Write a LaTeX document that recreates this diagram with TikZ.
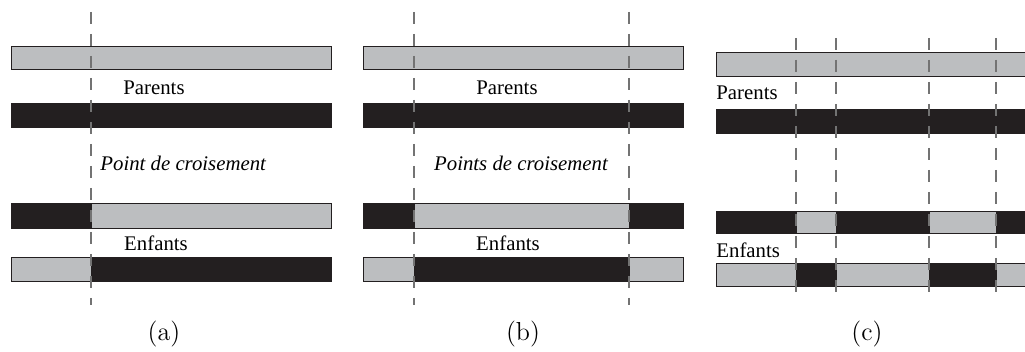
\documentclass[tikz,border=0pt]{standalone}
\usepackage{fontspec}
\newfontfamily\timesfont{Liberation Serif}
\usetikzlibrary{positioning}
\definecolor{geneg}{HTML}{BCBEC0}
\definecolor{genek}{HTML}{231F20}

\begin{document}
\begin{tikzpicture}[x=0.5pt,y=-0.5pt,
  gris/.style={fill=geneg,draw=genek,line width=0.5pt},
  noir/.style={fill=genek,draw=genek,line width=0.5pt},
  coupe/.style={draw=black!55,line width=0.6pt,dash pattern=on 6pt off 5pt},
  lbl/.style={font=\timesfont\fontsize{10.4}{12}\selectfont,inner sep=0pt},
  sub/.style={font=\fontsize{13}{15}\selectfont,inner sep=0pt}]
\useasboundingbox (0,0) rectangle (1025,352);
% (a) un point de croisement
\draw[gris] (11,47) rectangle (331,70);
\draw[noir] (11,104) rectangle (331,128);
\draw[noir] (11,204) rectangle (91,229);
\draw[gris] (91,204) rectangle (331,229);
\draw[gris] (11,258) rectangle (91,282);
\draw[noir] (91,258) rectangle (331,282);
\node[lbl] (pa) at (154,88) {Parents};
\node[lbl,anchor=west] (xa) at (100,163) {\itshape Point de croisement};
\node[lbl] (ea) at (156,243) {Enfants};
\node[sub] (sa) at (164,334) {(a)};
\coordinate (a1t) at (91,12);
\coordinate (a1b) at (91,305);
\draw[coupe] (a1t) -- (a1b);
%
% (b) deux points de croisement
\draw[gris] (363,47) rectangle (683,70);
\draw[noir] (363,104) rectangle (683,128);
\draw[noir] (363,204) rectangle (414,229);
\draw[gris] (414,204) rectangle (629,229);
\draw[noir] (629,204) rectangle (683,229);
\draw[gris] (363,258) rectangle (414,282);
\draw[noir] (414,258) rectangle (629,282);
\draw[gris] (629,258) rectangle (683,282);
\node[lbl] (pb) at (507,88) {Parents};
\node[lbl] (xb) at (521,163) {\itshape Points de croisement};
\node[lbl] (eb) at (508,243) {Enfants};
\node[sub] (sb) at (523,334) {(b)};
\coordinate (b1t) at (414,12);
\coordinate (b1b) at (414,305);
\coordinate (b2t) at (629,12);
\coordinate (b2b) at (629,305);
\draw[coupe] (b1t) -- (b1b);
\draw[coupe] (b2t) -- (b2b);
%
% (c) croisement uniforme
\draw[gris] (716,53) rectangle (1030,77);
\draw[noir] (716,110) rectangle (1030,134);
\draw[noir] (716,212) rectangle (796,234);
\draw[gris] (796,212) rectangle (836,234);
\draw[noir] (836,212) rectangle (929,234);
\draw[gris] (929,212) rectangle (996,234);
\draw[noir] (996,212) rectangle (1030,234);
\draw[gris] (716,264) rectangle (796,287);
\draw[noir] (796,264) rectangle (836,287);
\draw[gris] (836,264) rectangle (929,287);
\draw[noir] (929,264) rectangle (996,287);
\draw[gris] (996,264) rectangle (1030,287);
\node[lbl,anchor=west] (pc) at (716,93) {Parents};
\node[lbl,anchor=west] (ec) at (716,250) {Enfants};
\node[sub] (sc) at (867,334) {(c)};
\foreach \x [count=\i] in {796,836,929,996} {
  \coordinate (c\i t) at (\x,38);
  \coordinate (c\i b) at (\x,300);
  \draw[coupe] (c\i t) -- (c\i b);
}
\end{tikzpicture}
\end{document}
